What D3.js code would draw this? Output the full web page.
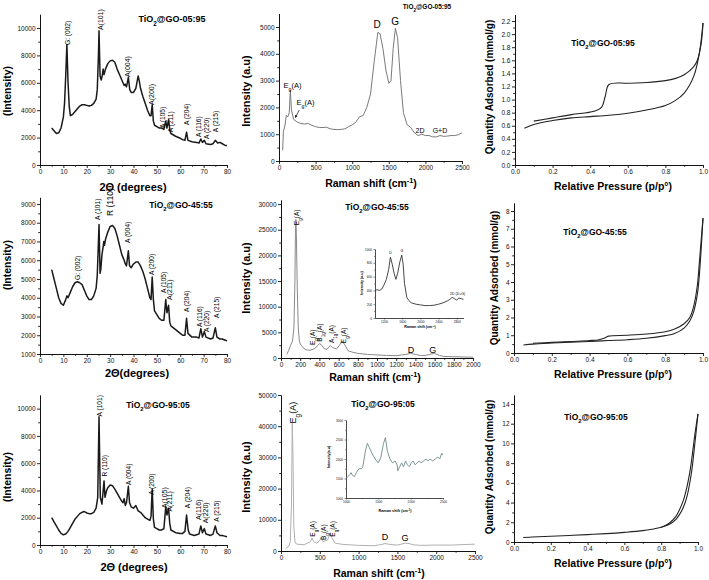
<!DOCTYPE html>
<html><head><meta charset="utf-8">
<script src="https://cdn.jsdelivr.net/npm/d3@7"></script>
<style>body{margin:0;background:#fff} text{font-family:"Liberation Sans",Arial,sans-serif}</style>
</head><body><svg id="c" width="709" height="580"></svg>
<script>
// ---------- DATA ----------
const titles = ["TiO_{2}@GO-05:95","TiO_{2}@GO-45:55","TiO_{2}@GO-95:05"];
const xrdTicksX = [0,10,20,30,40,50,60,70,80];

const xrd0595 = [[5,2700],[6,2500],[7,2300],[8,2350],[9,2700],[10,3500],[10.5,4500],[11,6500],[11.5,8800],[12,6000],[12.5,4300],[13,3600],[14,3700],[15,3900],[16,4100],[17,4300],[18,4400],[19,4400],[20,4350],[21,4300],[22,4350],[23,4500],[24,4800],[24.5,5500],[25,8000],[25.25,9800],[25.7,6500],[26.2,6200],[26.7,6600],[27,7000],[27.4,6600],[28,7000],[29,7400],[30,7600],[31,7650],[32,7500],[33,7000],[34,6600],[35,6200],[36,5800],[36.5,5900],[37,5700],[37.8,6400],[38.4,5500],[39,5300],[40,5300],[41,5600],[42,6500],[42.5,6100],[43,5600],[44,5000],[45,4500],[46,4000],[47,3600],[47.5,3600],[48,4400],[48.5,3200],[49,2900],[50,2800],[51,2700],[52,2700],[53,2600],[53.8,3200],[54.3,2700],[55,3300],[55.6,2500],[56,2300],[58,2100],[60,1950],[61,1850],[62,1800],[62.7,2400],[63.3,1800],[65,1700],[67,1650],[68,1600],[68.8,1900],[69.5,1650],[70.3,1800],[71,1550],[73,1500],[74,1550],[75,1800],[76,1600],[77,1650],[78,1550],[79,1450],[80,1400]];
const xrd4555 = [[5,5500],[6,5000],[7,4500],[8,4000],[9,3700],[10,3600],[11,3900],[11.5,4100],[12,4000],[13,4300],[14,4600],[15,4800],[16,4850],[17,4800],[18,4700],[19,4400],[20,4100],[21,3900],[22,3900],[23,4100],[24,4500],[24.5,5200],[25.25,7900],[25.7,5300],[26,5500],[26.5,6300],[27,6700],[27.3,7000],[27.6,6800],[28,7100],[29,7500],[30,7800],[31,7850],[32,7700],[33,7300],[34,6800],[35,6300],[36,6000],[36.5,5800],[37,5700],[37.8,6500],[38.3,5700],[39,5600],[40,5800],[41,5900],[42,5900],[43,5700],[44,5400],[45,5000],[46,4500],[47,4000],[47.5,3900],[48,5100],[48.5,3900],[49,3300],[50,3100],[51,2900],[52,2800],[53,2800],[53.8,3900],[54.3,3200],[55,3600],[55.5,2700],[56,2500],[58,2300],[60,2100],[61,2000],[62,2000],[62.7,2900],[63.3,2100],[65,1900],[67,1900],[68,1850],[68.8,2350],[69.5,1900],[70.3,2200],[71,1900],[73,1800],[74,1850],[75,2400],[75.7,1900],[77,1800],[78,1800],[79,1750],[80,1700]];
const xrd9505 = [[5,2000],[6,1700],[7,1400],[8,1100],[9,850],[10,750],[11,800],[12,1000],[13,1300],[14,1600],[15,1900],[16,2100],[17,2300],[18,2400],[19,2450],[20,2350],[21,2300],[22,2300],[23,2400],[24,2700],[24.7,3500],[25.25,9400],[25.8,3500],[26.5,3000],[27.4,4700],[27.8,3500],[28.5,4000],[29,4200],[30,4400],[31,4350],[32,4100],[33,3800],[34,3500],[35,3200],[35.5,3100],[36,3400],[36.5,2900],[37,3100],[37.8,4300],[38.3,3100],[39,2800],[40,2700],[41,2900],[41.5,2700],[42,2500],[43,2400],[44,2200],[45,2000],[46,1900],[47,1800],[47.5,2100],[48,4100],[48.5,1900],[49,1300],[50,1200],[51,1100],[52,1100],[53,1200],[53.8,2800],[54.3,2200],[55,2700],[55.5,1600],[56,1100],[58,900],[60,850],[61,850],[62,1000],[62.7,2200],[63.4,1100],[64,800],[66,700],[68,800],[68.8,1400],[69.5,900],[70.3,1200],[71,800],[73,700],[74,800],[75,1400],[75.7,900],[77,700],[78,700],[79,650],[80,600]];

const xrdLab0595 = [["G: (002)",12.0,8760],["A(101)",25.7,9850],["A(004)",37.6,6420],["A(200)",47.9,4380],["A (105)",52.6,2700],["A (211)",56.0,2400],["A (204)",62.9,2920],["A (116)",68.0,2040],["A (220)",71.4,1900],["A (215)",75.3,2400]];
const xrdLab4555 = [["G: (002)",16.3,4950],["A (101)",24.8,8150],["R (110)",29.9,8360],["A (004)",37.6,6920],["A (200)",47.9,5210],["A (105)",53.1,4250],["A(211)",55.6,3880],["A (204)",62.9,3240],["A (116)",68.4,2440],["A (220)",71.4,2170],["A (215)",75.7,2920]];
const xrdLab9505 = [["A (101)",25.4,9430],["R (110)",27.5,5020],["A (004)",37.8,4410],["A (200)",47.8,3680],["A(105)",53.2,2700],["A(211)",55.6,2450],["A (204)",63.0,2700],["A(116)",68.0,1840],["A(220)",71.0,1590],["A (215)",75.6,1710]];

const raman0595 = [[50,400],[60,1100],[80,1300],[100,1700],[120,1650],[140,1800],[155,2650],[170,1900],[200,1550],[250,1450],[300,1400],[350,1380],[400,1400],[450,1330],[500,1280],[550,1250],[600,1250],[650,1260],[700,1200],[750,1180],[800,1170],[850,1180],[900,1200],[950,1280],[1000,1350],[1050,1450],[1100,1650],[1150,1700],[1200,2000],[1250,2500],[1300,3700],[1350,4800],[1380,4750],[1420,4200],[1460,3400],[1500,2900],[1530,3000],[1560,4200],[1590,4950],[1620,4600],[1660,3000],[1700,1800],[1750,1350],[1800,1250],[1850,1050],[1900,950],[1950,1000],[2000,950],[2050,950],[2100,900],[2150,900],[2200,950],[2250,920],[2300,930],[2350,950],[2400,950],[2450,980],[2500,1050]];
const raman4555 = [[60,700],[80,1500],[100,2500],[120,3300],[135,6000],[145,15000],[150,24000],[155,27000],[160,24000],[170,13000],[180,6000],[190,3500],[200,2800],[210,2500],[230,2000],[260,1600],[300,1500],[350,1800],[380,2400],[400,2800],[420,2600],[450,1800],[480,1700],[500,2200],[515,2400],[540,2000],[580,1800],[610,2500],[635,3300],[660,2700],[700,1400],[750,1100],[800,900],[900,700],[1000,600],[1100,500],[1200,450],[1300,700],[1350,900],[1400,700],[1450,500],[1500,500],[1550,700],[1600,900],[1650,500],[1700,300],[1800,250],[1900,200],[2000,150]];
const inset4555 = [[1000,400],[1050,410],[1100,400],[1150,420],[1200,480],[1250,560],[1300,700],[1340,880],[1380,780],[1420,650],[1460,560],[1500,650],[1550,820],[1590,910],[1620,780],[1650,500],[1700,300],[1750,250],[1800,220],[1900,200],[2000,190],[2100,180],[2200,180],[2300,185],[2400,200],[2500,220],[2600,250],[2650,270],[2700,300],[2750,280],[2800,260],[2850,290],[2900,280],[2950,270]];
const raman9505 = [[60,800],[100,1500],[120,3000],[135,15000],[145,41000],[155,30000],[165,8000],[180,3000],[200,2200],[300,2000],[380,3000],[400,4200],[420,3000],[460,2500],[500,3300],[515,4300],[540,3000],[600,3500],[635,5800],[660,4000],[700,2500],[800,2100],[1000,1800],[1200,1700],[1300,2100],[1340,2400],[1400,2100],[1500,1900],[1600,2500],[1650,2400],[1700,2000],[1800,1800],[2000,1900],[2200,1900],[2400,2100],[2500,2200]];
const inset9505 = [[1000,1500],[1030,1550],[1060,1600],[1080,1650],[1100,1580],[1130,1550],[1160,1650],[1200,1750],[1240,1750],[1260,1800],[1300,2200],[1330,2400],[1360,2300],[1400,2150],[1450,2000],[1500,1900],[1540,2050],[1580,2400],[1610,2550],[1640,2200],[1680,2000],[1720,1900],[1760,1950],[1790,1850],[1800,1700],[1830,1800],[1860,1900],[1890,1800],[1920,1950],[1950,1850],[1980,1800],[2010,1900],[2040,1950],[2070,1850],[2100,1900],[2130,1950],[2160,1900],[2200,1950],[2240,2000],[2270,1950],[2300,2000],[2340,1950],[2380,2000],[2420,2050],[2450,2000],[2480,2150],[2500,2100]];

const ramanLab4555 = [["E_{g}(A)",165,25900],["E_{g}(A)",330,2530],["B_{1g}(A)",406,3180],["A_{1g}(A)",528,2900],["E_{g}(A)",649,2900]];
const ramanLab9505 = [["E_{g}(A)",414,4580],["B_{g}(A)",556,3530],["E_{g}(A)",672,4580]];

const betAds0595 = [[0.05,0.56],[0.1,0.62],[0.2,0.68],[0.3,0.72],[0.4,0.74],[0.5,0.76],[0.6,0.79],[0.7,0.84],[0.8,0.91],[0.85,0.98],[0.9,1.1],[0.95,1.35],[0.98,1.7],[1.0,2.17]];
const betDes0595 = [[1.0,2.17],[0.99,1.85],[0.97,1.6],[0.95,1.5],[0.9,1.38],[0.85,1.32],[0.8,1.29],[0.7,1.26],[0.6,1.25],[0.5,1.23],[0.48,1.05],[0.46,0.88],[0.42,0.82],[0.3,0.77],[0.2,0.72],[0.1,0.67]];
const betAds4555 = [[0.05,0.45],[0.1,0.5],[0.2,0.56],[0.3,0.61],[0.4,0.65],[0.5,0.7],[0.6,0.75],[0.7,0.83],[0.8,0.98],[0.85,1.1],[0.9,1.4],[0.93,1.8],[0.95,2.3],[0.97,3.3],[0.98,4.3],[0.99,5.8],[1.0,7.6]];
const betDes4555 = [[1.0,7.6],[0.99,6.3],[0.98,5.0],[0.97,3.8],[0.95,2.6],[0.93,2.0],[0.9,1.65],[0.85,1.35],[0.8,1.2],[0.7,1.07],[0.6,1.0],[0.5,0.95],[0.48,0.85],[0.45,0.75],[0.4,0.7],[0.3,0.65],[0.2,0.6],[0.1,0.55]];
const betAds9505 = [[0.05,0.45],[0.1,0.5],[0.2,0.58],[0.3,0.66],[0.4,0.75],[0.5,0.85],[0.6,0.98],[0.7,1.15],[0.75,1.3],[0.8,1.5],[0.85,1.85],[0.88,2.3],[0.9,2.8],[0.92,3.5],[0.94,4.6],[0.96,6.5],[0.97,7.8],[0.98,9.5],[0.99,11.2],[1.0,13]];
const betDes9505 = [[1.0,13],[0.99,11.8],[0.98,10.5],[0.97,9.0],[0.96,7.6],[0.94,5.6],[0.92,4.2],[0.9,3.3],[0.88,2.6],[0.85,2.0],[0.82,1.65],[0.8,1.5]];

// ---------- HELPERS ----------
const svg = d3.select("#c");
function rich(sel, s){
  const re=/([_^])\{([^}]*)\}/g; let last=0,m;
  while((m=re.exec(s))){
    if(m.index>last) sel.append("tspan").text(s.slice(last,m.index));
    sel.append("tspan").attr("baseline-shift", m[1]=="_"?"sub":"super").attr("font-size","70%").text(m[2]);
    last=re.lastIndex;
  }
  if(last<s.length) sel.append("tspan").text(s.slice(last));
  return sel;
}
function label(s,x,y,o={}){
  const t=svg.append("text").attr("x",x).attr("y",y).attr("font-size",o.fs||10)
    .attr("font-weight",o.fw||"normal").attr("text-anchor",o.anchor||"middle").attr("fill","#000");
  if(o.rot) t.attr("transform",`rotate(${o.rot},${x},${y})`);
  rich(t,s); return t;
}
function panel(c){
  const x=d3.scaleLinear().domain(c.xd).range(c.xr);
  const y=d3.scaleLinear().domain(c.yd).range(c.yr);
  const g=svg.append("g");
  const fs=c.tfs||6.5, tk=c.tk||3;
  const fmtx=c.xf||d3.format("d"), fmty=c.yf||d3.format("d");
  g.append("g").attr("transform",`translate(0,${c.yr[0]})`)
    .call(d3.axisBottom(x).tickValues(c.xt).tickSize(tk).tickSizeOuter(0).tickPadding(1.5).tickFormat(fmtx));
  g.append("g").attr("transform",`translate(${c.xr[0]},0)`)
    .call(d3.axisLeft(y).tickValues(c.yt).tickSize(tk).tickSizeOuter(0).tickPadding(1.5).tickFormat(fmty));
  if(c.xm) g.append("g").attr("transform",`translate(0,${c.yr[0]})`)
    .call(d3.axisBottom(x).tickValues(c.xm).tickSize(tk*0.6).tickSizeOuter(0).tickFormat(""));
  if(c.ym) g.append("g").attr("transform",`translate(${c.xr[0]},0)`)
    .call(d3.axisLeft(y).tickValues(c.ym).tickSize(tk*0.6).tickSizeOuter(0).tickFormat(""));
  g.selectAll("text").attr("font-size",fs).attr("fill","#111").attr("font-family","Liberation Sans, Arial, sans-serif");
  g.selectAll(".domain,.tick line").attr("stroke","#111").attr("stroke-width",c.aw||0.9);
  (c.series||[]).forEach(s=>{
    const line=d3.line().x(d=>x(d[0])).y(d=>y(d[1]));
    if(s.smooth) line.curve(d3.curveCatmullRom.alpha(0.5));
    g.append("path").datum(s.data).attr("d",line).attr("fill","none")
      .attr("stroke",s.color).attr("stroke-width",s.w).attr("stroke-linejoin","round");
  });
  return {x,y,g};
}

// ---------- XRD PANELS ----------
function xrdPanel(data, labs, yd, yr, yt, ym, bigR){
  const p=panel({xd:[0,80],xr:[40,227],yd,yr,xt:xrdTicksX,xm:[5,15,25,35,45,55,65,75],yt,ym,
    series:[{data,color:"#1a1a1a",w:1.5}]});
  labs.forEach(l=>{
    const big = l[0].startsWith("R") && bigR;
    label(l[0],p.x(l[1]),p.y(l[2]),{rot:-90,anchor:"start",fs:big?8.5:(l[0].length>6?6.6:7)}).attr("dy","0.35em");
  });
  return p;
}
xrdPanel(xrd0595,xrdLab0595,[0,11000],[165,14.3],d3.range(0,10001,2000),d3.range(1000,11000,2000),false);
xrdPanel(xrd4555,xrdLab4555,[1000,9350],[354,197.4],d3.range(1000,9001,1000),d3.range(1500,9100,1000),true);
xrdPanel(xrd9505,xrdLab9505,[0,11000],[545,395],d3.range(0,10001,2000),d3.range(1000,11000,2000),false);

label(titles[0],172,22,{fs:9,fw:"bold"});
label(titles[1],181,208,{fs:8.5,fw:"bold"});
label(titles[2],158,408,{fs:8.5,fw:"bold"});
label("2Θ (degrees)",133,191,{fs:11,fw:"bold"});
label("2Θ(degrees)",137,377,{fs:11,fw:"bold"});
label("2Θ (degrees)",134,571,{fs:11,fw:"bold"});
label("(Intensity)",11,91,{fs:10.5,fw:"bold",rot:-90});
label("(Intensity)",11,265,{fs:10.5,fw:"bold",rot:-90});
label("(Intensity)",11,477,{fs:10.5,fw:"bold",rot:-90});

// ---------- RAMAN PANELS ----------
const r1=panel({xd:[0,2500],xr:[279,462],yd:[0,5500],yr:[161,13.6],xt:d3.range(0,2501,500),xm:d3.range(250,2500,500),
  yt:d3.range(0,5001,1000),ym:d3.range(500,5500,1000),series:[{data:raman0595,color:"#7a7a7a",w:1}]});
label("D",r1.x(1339),r1.y(4960),{fs:10});
label("G",r1.x(1585),r1.y(5060),{fs:10});
label("E_{g}(A)",r1.x(184),r1.y(2720),{fs:7.5});
label("E_{g}(A)",r1.x(362),r1.y(2090),{fs:7.5});
label("2D",r1.x(1926),r1.y(1045),{fs:7});
label("G+D",r1.x(2199),r1.y(1045),{fs:7});
svg.append("defs").append("marker").attr("id","ah").attr("viewBox","0 0 10 10").attr("refX",9).attr("refY",5)
  .attr("markerWidth",4).attr("markerHeight",4).attr("orient","auto")
  .append("path").attr("d","M0,0L10,5L0,10z").attr("fill","#111");
svg.append("line").attr("x1",r1.x(277)).attr("y1",r1.y(1900)).attr("x2",r1.x(222)).attr("y2",r1.y(1620))
  .attr("stroke","#111").attr("stroke-width",0.7).attr("marker-end","url(#ah)");
label(titles[0],427,9,{fs:6.5,fw:"bold"});

const r2=panel({xd:[0,2000],xr:[281,473],yd:[0,30800],yr:[358,200],xt:d3.range(0,2001,200),xm:d3.range(100,2000,200),
  yt:d3.range(0,30001,5000),ym:d3.range(2500,30800,5000),series:[{data:raman4555,color:"#8a8a8a",w:1}]});
ramanLab4555.forEach(l=>label(l[0],r2.x(l[1]),r2.y(l[2]),{rot:-90,anchor:"start",fs:6.5}).attr("dy","0.35em"));
label("D",r2.x(1354),r2.y(975),{fs:9});
label("G",r2.x(1580),r2.y(975),{fs:9});
label(titles[1],377,210,{fs:8.5,fw:"bold"});
const i2=panel({xd:[1000,2950],xr:[375,463.5],yd:[0,1000],yr:[318,249],xt:[1200,1600,2000,2400,2800],
  xm:[1400,1800,2200,2600],yt:d3.range(0,1001,200),ym:d3.range(100,1000,200),tfs:3.2,tk:1.5,aw:0.5,
  series:[{data:inset4555,color:"#333",w:0.9}]});
label("D",i2.x(1340),i2.y(930),{fs:3.5});
label("G",i2.x(1590),i2.y(960),{fs:3.5});
label("2D (D+G)",i2.x(2820),i2.y(330),{fs:3.5});
label("Raman shift (cm^{-1})",420,328,{fs:3.6,fw:"bold"});
label("Intensity (a.u)",363,283,{fs:3.6,fw:"bold",rot:-90});

const r3=panel({xd:[0,2500],xr:[281,475],yd:[0,50000],yr:[551,395],xt:d3.range(0,2501,500),xm:d3.range(250,2500,500),
  yt:d3.range(0,50001,10000),ym:d3.range(5000,50000,10000),series:[{data:raman9505,color:"#b0b0b0",w:1}]});
label("E_{g}(A)",r3.x(158),r3.y(40900),{rot:-90,anchor:"start",fs:9}).attr("dy","0.35em");
ramanLab9505.forEach(l=>label(l[0],r3.x(l[1]),r3.y(l[2]),{rot:-90,anchor:"start",fs:6.5}).attr("dy","0.35em"));
label("D",r3.x(1340),r3.y(3525),{fs:9});
label("G",r3.x(1598),r3.y(3045),{fs:9});
label(titles[2],383,407,{fs:8.5,fw:"bold"});
const i3=panel({xd:[1000,2500],xr:[346,443],yd:[1000,3000],yr:[498,420],xt:d3.range(1000,2501,500),
  xm:d3.range(1250,2500,500),yt:d3.range(1000,3001,500),ym:d3.range(1250,3000,500),tfs:3.2,tk:1.5,aw:0.5,
  series:[{data:inset9505,color:"#7f9595",w:1}]});
label("Raman shift (cm^{-1})",395,512,{fs:3.8,fw:"bold"});
label("Intensity(a.u)",330,457,{fs:3.6,fw:"bold",rot:-90});

label("Raman shift (cm^{-1})",371,187,{fs:10.5,fw:"bold"});
label("Raman shift (cm^{-1})",375,381,{fs:10.5,fw:"bold"});
label("Raman shift (cm^{-1})",379,577,{fs:10.5,fw:"bold"});
label("Intensity (a.u)",250,91,{fs:11,fw:"bold",rot:-90});
label("Intensity (a.u)",250,278,{fs:11,fw:"bold",rot:-90});
label("Intensity (a.u)",250,477,{fs:11,fw:"bold",rot:-90});

// ---------- BET PANELS ----------
const f1=d3.format(".1f");
panel({xd:[0,1],xr:[515,703],yd:[0,2.3],yr:[165,14.5],xt:d3.range(0,1.01,0.2),xm:d3.range(0.1,1,0.2),xf:f1,
  yt:d3.range(0,2.21,0.2),ym:d3.range(0.1,2.3,0.2),yf:f1,
  series:[{data:betAds0595,color:"#222",w:1.1,smooth:true},{data:betDes0595,color:"#222",w:1.1,smooth:true}]});
panel({xd:[0,1],xr:[514,703],yd:[0,8.45],yr:[353,203],xt:d3.range(0,1.01,0.2),xm:d3.range(0.1,1,0.2),xf:f1,
  yt:d3.range(0,8.1,1),ym:d3.range(0.5,8.45,1),
  series:[{data:betAds4555,color:"#222",w:1.1,smooth:true},{data:betDes4555,color:"#222",w:1.1,smooth:true}]});
panel({xd:[0,1],xr:[514,698],yd:[0,14.9],yr:[542,395.1],xt:d3.range(0,1.01,0.2),xm:d3.range(0.1,1,0.2),xf:f1,
  yt:d3.range(0,14.1,2),ym:d3.range(1,14.9,2),
  series:[{data:betAds9505,color:"#222",w:1.1,smooth:true},{data:betDes9505,color:"#222",w:1.1,smooth:true}]});
label(titles[0],603,46,{fs:8.5,fw:"bold"});
label(titles[1],595,235,{fs:8.5,fw:"bold"});
label(titles[2],596,420,{fs:8.5,fw:"bold"});
["190","378","567"].forEach(yy=>label("Relative Pressure (p/p°)",613,+yy,{fs:10.5,fw:"bold"}));
label("Quantity Adsorbed (mmol/g)",493,87,{fs:10,fw:"bold",rot:-90});
label("Quantity Adsorbed (mmol/g)",498,278,{fs:10,fw:"bold",rot:-90});
label("Quantity Adsorbed (mmol/g)",493,467,{fs:10,fw:"bold",rot:-90});
</script></body></html>
